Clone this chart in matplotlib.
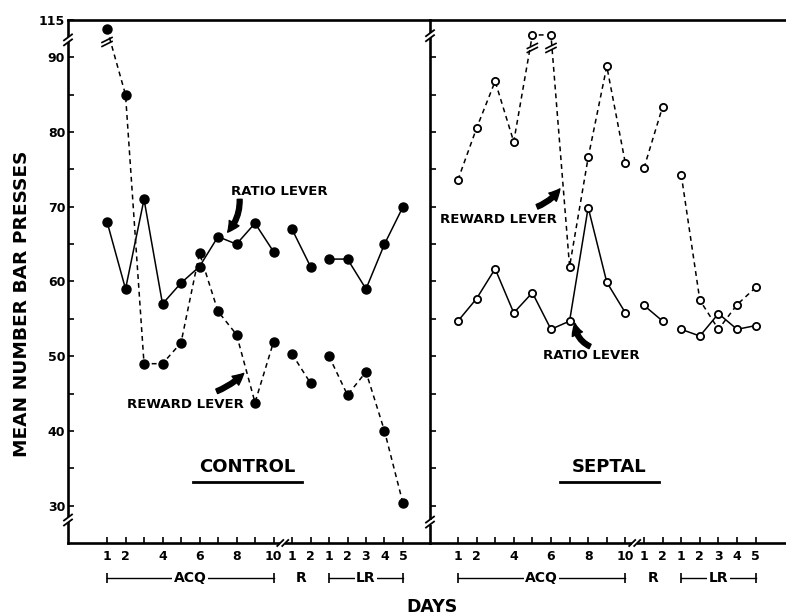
import numpy as np
import matplotlib
matplotlib.use('Agg')
import matplotlib.pyplot as plt
from matplotlib.lines import Line2D
from matplotlib.patches import Rectangle

# day slots: 10 acquisition days, 2 R days, 5 LR days
day_labels = ['1', '2', '', '4', '', '6', '', '8', '', '10',
              '1', '2', '1', '2', '3', '4', '5']
blocks = [(0, 10), (10, 12), (12, 17)]   # points joined by lines only inside a block
block_names = [('ACQ', 0, 9), ('R', 10, 11), ('LR', 12, 16)]

ctrl_ratio = [68, 59, 71, 57, 59.8, 62, 66, 65, 67.8, 64,
              67, 62, 63, 63, 59, 65, 70]
ctrl_reward = [109, 85, 49, 49, 51.8, 63.8, 56, 52.9, 43.8, 51.9,
               50.3, 46.4, 50, 44.8, 47.9, 40, 30.3]
sept_ratio = [54.7, 57.7, 61.7, 55.8, 58.5, 53.6, 54.7, 69.9, 59.9, 55.8,
              56.8, 54.7, 53.6, 52.7, 55.7, 53.6, 54.1]
sept_reward = [73.6, 80.5, 86.8, 78.7, 105, 105, 62, 76.6, 88.8, 75.8,
               75.2, 83.4, 74.3, 57.5, 53.6, 56.9, 59.2]

y_major = [30, 40, 50, 60, 70, 80, 90, 115]
y_minor = [35, 45, 55, 65, 75, 85]
BRK = 90.0   # values above this are squeezed (axis break)


def fwd(v):
    v = np.asarray(v, dtype=float)
    return np.where(v > BRK, BRK + (v - BRK) * 0.2, v)


def inv(u):
    u = np.asarray(u, dtype=float)
    return np.where(u > BRK, BRK + (u - BRK) * 5.0, u)


fig = plt.figure(figsize=(7.86, 6.16), dpi=100)
L, M, B, T = 68 / 786, 430 / 786, 1 - 543 / 616, 1 - 20 / 616
axL = fig.add_axes([L, B, M - L, T - B])
axR = fig.add_axes([M, B, 1 - M, T - B])

DASH = (0, (3.2, 2.6))


def draw_series(ax, vals, ls, filled):
    x = np.arange(len(vals))
    v = np.asarray(vals, dtype=float)
    for a, b in blocks:
        ax.plot(x[a:b], v[a:b], color='black', lw=1.1, ls=ls, zorder=2)
    if filled:
        ax.plot(x, v, 'o', ms=6.5, color='black', zorder=3)
    else:
        ax.plot(x, v, 'o', ms=5.2, mfc='white', mec='black', mew=1.3, zorder=3)


for ax in (axL, axR):
    ax.set_yscale('function', functions=(fwd, inv))
    ax.set_ylim(25, 115)
    ax.set_xticks(range(len(day_labels)))
    ax.set_xticklabels(day_labels, fontsize=9, fontweight='bold')
    ax.tick_params(axis='x', direction='in', length=4, width=1.2, pad=5)
    ax.tick_params(axis='y', which='both', direction='in', length=4, width=1.2)
    ax.spines['right'].set_visible(False)
    for s in ('left', 'top', 'bottom'):
        ax.spines[s].set_linewidth(1.9)

axL.set_xlim(-2.11, 17.46)
axR.set_xlim(-1.5, 17.63)
axL.set_yticks(y_major)
axL.set_yticklabels([str(t) for t in y_major], fontsize=9, fontweight='bold')
axL.set_yticks(y_minor, minor=True)
axL.tick_params(axis='y', pad=2)
axR.set_yticks(y_major[:-1] + y_minor)
axR.set_yticklabels([])
axR.tick_params(axis='y', which='minor', length=0)

draw_series(axL, ctrl_ratio, '-', True)
draw_series(axL, ctrl_reward, DASH, True)
draw_series(axR, sept_ratio, '-', False)
draw_series(axR, sept_reward, DASH, False)

# group labels under the day numbers
for ax in (axL, axR):
    tr = ax.get_xaxis_transform()
    yb = -0.067
    for name, a, b in block_names:
        if name != 'R':
            ax.plot([a, b], [yb, yb], color='black', lw=1.0, marker='|', ms=7,
                    mew=1.2, transform=tr, clip_on=False)
        ax.text((a + b) / 2, yb, name, transform=tr, ha='center', va='center',
                fontsize=10, fontweight='bold',
                bbox=dict(fc='white', ec='none', pad=1.0))

# panel titles
for ax, name, x0, x1 in ((axL, 'CONTROL', 0.345, 0.646), (axR, 'SEPTAL', 0.365, 0.643)):
    ax.text((x0 + x1) / 2, 0.146, name, transform=ax.transAxes, ha='center',
            va='center', fontsize=13, fontweight='bold')
    ax.plot([x0, x1], [0.117, 0.117], color='black', lw=2.0,
            transform=ax.transAxes, clip_on=False)

# curve labels with arrows
arrow = dict(arrowstyle='simple,head_length=0.8,head_width=0.8,tail_width=0.35',
             color='black', shrinkA=0, shrinkB=0)
axL.text(6.7, 72.1, 'RATIO LEVER', fontsize=9.5, fontweight='bold', va='center')
axL.annotate('', xy=(6.52, 66.6), xytext=(7.17, 71.0),
             arrowprops=dict(arrow, connectionstyle='arc3,rad=-0.2'))
axL.text(1.08, 43.5, 'REWARD LEVER', fontsize=9.5, fontweight='bold', va='center')
axL.annotate('', xy=(7.39, 47.7), xytext=(5.93, 45.3),
             arrowprops=dict(arrow, connectionstyle='arc3,rad=0.1'))
axR.text(-0.97, 68.3, 'REWARD LEVER', fontsize=9.5, fontweight='bold', va='center')
axR.annotate('', xy=(5.48, 72.4), xytext=(4.25, 70.0),
             arrowprops=dict(arrow, connectionstyle='arc3,rad=0.15'))
axR.text(4.57, 50.1, 'RATIO LEVER', fontsize=9.5, fontweight='bold', va='center')
axR.annotate('', xy=(6.29, 54.4), xytext=(7.1, 51.3),
             arrowprops=dict(arrow, connectionstyle='arc3,rad=-0.3'))

fig.text(0.028, 0.507, 'MEAN NUMBER BAR PRESSES', rotation=90, ha='center',
         va='center', fontsize=13.3, fontweight='bold')
fig.text(0.55, 0.0146, 'DAYS', ha='center', va='center', fontsize=12.5,
         fontweight='bold')

# break marks, drawn in pixel space
to_fig = fig.transFigure.inverted()


def seg(p, q, lw=1.3):
    a, b = to_fig.transform([p, q])
    fig.add_artist(Line2D([a[0], b[0]], [a[1], b[1]], color='black', lw=lw,
                          transform=fig.transFigure, zorder=10))


def gap(cx, cy, w, h):
    (x0, y0), (x1, y1) = to_fig.transform([(cx - w / 2, cy - h / 2), (cx + w / 2, cy + h / 2)])
    fig.add_artist(Rectangle((x0, y0), x1 - x0, y1 - y0, fc='white', ec='none',
                             transform=fig.transFigure, zorder=9))


def y_spine_break(ax, yf):
    cx, cy = ax.transAxes.transform((0, yf))
    gap(cx, cy, 6, 5)
    for d in (-2.5, 2.5):
        seg((cx - 4, cy + d - 3), (cx + 4, cy + d + 3))


def x_spine_break(ax, xval):
    cx, cy = ax.get_xaxis_transform().transform((xval, 0))
    gap(cx, cy, 5, 6)
    for d in (-2.5, 2.5):
        seg((cx + d - 3, cy - 3), (cx + d + 3, cy + 3))


for ax, top, bot in ((axL, 0.962, 0.044), (axR, 0.97, 0.04)):
    y_spine_break(ax, top)
    y_spine_break(ax, bot)
    x_spine_break(ax, 9.5)

# "//" on the lines leaving the squeezed points
for ax, vals in ((axL, ctrl_reward), (axR, sept_reward)):
    for i, v in enumerate(vals):
        if v > BRK:
            px, py = ax.transData.transform((i, v))
            cy = py - 13
            for d in (-2, 2):
                seg((px - 5, cy + d - 2.5), (px + 5, cy + d + 2.5), lw=1.2)

fig.savefig('out.png', dpi=100)
